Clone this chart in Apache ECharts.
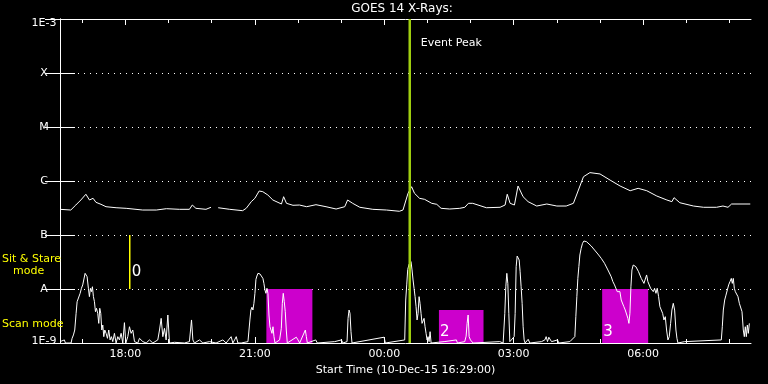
<!DOCTYPE html>
<html><head><meta charset="utf-8">
<script src="https://cdn.jsdelivr.net/npm/echarts@6/dist/echarts.min.js"></script>
<style>html,body{margin:0;padding:0;background:#000;}#chart{width:768px;height:384px;}</style>
</head><body><div id="chart"></div>
<script>
const FONT = 'DejaVu Sans';
// x values: minutes since start time 10-Dec-15 16:29:00
const axisMaxMinute = 961;
const majorTickMinutes = [91, 271, 451, 631, 811];
const majorTickLabels = ['18:00', '21:00', '00:00', '03:00', '06:00'];
const hourTickMinutes = [31, 91, 151, 211, 271, 331, 391, 451, 511, 571, 631, 691, 751, 811, 871, 931];
const fluxTicks = [1e-9, 1e-8, 1e-7, 1e-6, 1e-5, 1e-4, 1e-3];
const fluxTickLabels = ['1E-9', 'A', 'B', 'C', 'M', 'X', '1E-3'];

// GOES 14 long channel (1-8 A)
const longChannel = [
[0,2.99e-7],[15,2.9e-7],[22,3.59e-7],[29,4.45e-7],[36,5.68e-7],[41,4.45e-7],[46,4.78e-7],[50,4.03e-7],[57,3.7e-7],[64,3.34e-7],
[78,3.2e-7],[92,3.12e-7],[115,2.9e-7],[134,2.9e-7],[148,3.07e-7],[166,2.99e-7],[180,2.99e-7],[184,3.59e-7],[189,3.12e-7],[203,2.99e-7],
[210,3.26e-7],[214,'-'],[220,3.2e-7],[236,2.99e-7],[254,2.82e-7],[259,3.12e-7],[266,4.14e-7],[271,4.78e-7],[277,6.53e-7],[282,6.34e-7],
[289,5.51e-7],[296,4.45e-7],[308,3.75e-7],[311,5.12e-7],[315,3.86e-7],[324,3.55e-7],[333,3.59e-7],[343,3.34e-7],[356,3.64e-7],[370,3.34e-7],
[384,3.03e-7],[396,3.34e-7],[400,4.45e-7],[407,3.86e-7],[417,3.26e-7],[435,2.99e-7],[454,2.9e-7],[472,2.75e-7],[477,2.9e-7],[484,5.92e-7],
[489,7.84e-7],[493,5.92e-7],[500,4.78e-7],[507,4.58e-7],[517,3.86e-7],[524,3.7e-7],[530,3.12e-7],[542,3.03e-7],[556,3.12e-7],[563,3.26e-7],
[568,3.86e-7],[574,3.86e-7],[593,3.2e-7],[612,3.26e-7],[619,3.59e-7],[622,5.68e-7],[626,3.86e-7],[632,3.59e-7],[637,8.07e-7],[644,5.12e-7],
[651,4.14e-7],[663,3.44e-7],[677,3.75e-7],[691,3.44e-7],[704,3.44e-7],[714,3.86e-7],[721,6.81e-7],[728,1.2e-6],[737,1.43e-6],[751,1.35e-6],
[765,1.04e-6],[779,8.07e-7],[793,6.61e-7],[804,7.32e-7],[816,6.61e-7],[830,5.27e-7],[844,4.45e-7],[851,4.14e-7],[854,4.91e-7],[862,3.96e-7],
[881,3.44e-7],[895,3.26e-7],[913,3.26e-7],[922,3.44e-7],[929,3.26e-7],[934,3.75e-7],[960,3.75e-7]
];

// GOES 14 short channel (0.5-4 A)
const shortChannel = [
[0,1.06e-9],[1.5,1e-9],[6.1,1.14e-9],[7.5,1e-9],[15.4,1e-9],[16.8,1.22e-9],[18.7,1.41e-9],[20.5,1.74e-9],[22.4,3.54e-9],[23.8,5.82e-9],
[25.6,6.25e-9],[28,8.32e-9],[29.8,1.03e-8],[31.6,1.19e-8],[33.5,1.27e-8],[34.9,1.95e-8],[36.3,2.09e-8],[37.7,1.69e-8],[39.5,1.03e-8],[40.9,7.21e-9],
[42.3,1.03e-8],[43.7,8.93e-9],[45.1,1.1e-8],[46.5,7.21e-9],[47.9,5.82e-9],[49.3,3.8e-9],[50.7,4.39e-9],[52.5,3.54e-9],[53.9,2.31e-9],[55.3,4.39e-9],
[56.7,3.54e-9],[58.1,1.74e-9],[59.5,2.15e-9],[60.9,1.31e-9],[62.3,1.74e-9],[64.1,1.51e-9],[66,1.22e-9],[67.8,1.74e-9],[69.7,1.14e-9],[71.5,1.31e-9],
[73.4,1.06e-9],[75.7,1.51e-9],[78,1e-9],[80.4,1.31e-9],[82.7,1.14e-9],[85,1.51e-9],[87.3,1e-9],[89.6,2.38e-9],[91.5,1e-9],[94.3,1.31e-9],
[96.6,2e-9],[98.9,1.51e-9],[101.2,1.74e-9],[103.6,1.06e-9],[108.2,1e-9],[110.5,1.22e-9],[115.2,1.06e-9],[119.8,1e-9],[124.4,1.14e-9],[129.1,1e-9],
[136,1.14e-9],[138.4,1.74e-9],[140.7,2.86e-9],[143,1.31e-9],[145.3,1.87e-9],[147.6,1.14e-9],[150,3.3e-9],[152.3,1e-9],[159.2,1.03e-9],[173,1e-9],
[180,1.06e-9],[182.9,2.67e-9],[184.8,1.14e-9],[187,1e-9],[194,1.14e-9],[198.7,1e-9],[208,1.06e-9],[217,1e-9],[226.5,1.14e-9],[231,1e-9],
[238,1.31e-9],[240.4,1e-9],[242.8,1.14e-9],[245.1,1.31e-9],[247.4,1e-9],[249.8,1.06e-9],[252,1e-9],[261.4,1.06e-9],[262.8,1e-9],[264.1,2.67e-9],
[265.5,4.08e-9],[266.9,4.6e-9],[268.3,4.08e-9],[269.7,5.43e-9],[271.1,8.32e-9],[272.5,1.51e-8],[273.9,1.74e-8],[275.3,1.95e-8],[276.7,1.82e-8],[278.1,1.9e-8],
[279.5,1.95e-8],[280.8,1.77e-8],[282.2,1.57e-8],[283.6,1.27e-8],[285,9.6e-9],[286.4,8.32e-9],[287.8,1.03e-8],[289.2,8.32e-9],[290.6,3.3e-9],[292,2e-9],
[293.4,2.15e-9],[294.8,1.51e-9],[296.2,2e-9],[297.6,1.31e-9],[299,1e-9],[305.4,1.14e-9],[307.8,1.87e-9],[309.2,5.43e-9],[310.5,8.32e-9],[311.9,5.82e-9],
[313.3,3.8e-9],[314.7,1.74e-9],[316.1,1e-9],[328.6,1.28e-9],[331,1.14e-9],[333.3,1e-9],[341.2,1.74e-9],[342.6,1.31e-9],[344,1e-9],[355.6,1.14e-9],
[357.9,1e-9],[382,1.06e-9],[384.3,1e-9],[391.3,1.14e-9],[393.6,1e-9],[399.2,1.06e-9],[400.6,2.86e-9],[402,4.08e-9],[403.3,3.54e-9],[404.7,1.62e-9],
[406.1,1e-9],[450.7,1.28e-9],[452.5,1e-9],[479.4,1.14e-9],[480.8,6.25e-9],[482.2,1.19e-8],[483.6,2.3e-8],[485.5,2.9e-8],[488.2,3.2e-8],[489.6,2.25e-8],
[491,1.47e-8],[492.4,1.03e-8],[493.8,7.21e-9],[495.2,4.71e-9],[496.6,2.67e-9],[498,3.54e-9],[499.4,7.21e-9],[500.7,5.43e-9],[502.1,3.54e-9],[503.5,2.31e-9],
[504.9,2.15e-9],[506.3,2.86e-9],[507.7,2e-9],[509.1,1.51e-9],[510.5,1.14e-9],[511.9,1.31e-9],[513.3,1.06e-9],[514.7,1.62e-9],[516.1,1e-9],[534.2,1.06e-9],
[535.5,1e-9],[551.3,1.14e-9],[552.7,1e-9],[562.9,1.06e-9],[564.8,1.34e-9],[566.2,2.31e-9],[567.6,3.3e-9],[569,1.31e-9],[570.8,1.14e-9],[572.2,1.06e-9],
[574.5,1e-9],[611.6,1.06e-9],[614,1.14e-9],[616.3,1e-9],[618.6,3.54e-9],[620,1.1e-8],[621.4,1.95e-8],[622.8,1.27e-8],[624.2,3.54e-9],[625.6,1.06e-9],
[627,1e-9],[631.6,1.31e-9],[633,3.54e-9],[634.4,2.59e-8],[635.8,4.08e-8],[637.2,4.26e-8],[638.6,3.44e-8],[639.9,2.09e-8],[641.3,1.1e-8],[642.7,5.43e-9],
[644.1,2e-9],[645.5,1.14e-9],[646.9,1e-9],[651.1,1.17e-9],[653.4,1e-9],[669.6,1.06e-9],[674.3,1.14e-9],[676.1,1.31e-9],[678,1.06e-9],[679.8,1.28e-9],
[681.7,1.34e-9],[683.6,1.06e-9],[685.9,1e-9],[691.9,1.14e-9],[693.8,1e-9],[709.1,1.06e-9],[711.4,1e-9],[716,1.31e-9],[717.4,3.07e-9],[718.8,7.21e-9],
[720.2,1.57e-8],[721.6,2.6e-8],[723,4.26e-8],[724.8,5.67e-8],[726.7,7.02e-8],[728.6,7.74e-8],[730.4,7.74e-8],[732.3,7.51e-8],[734.1,7.2e-8],[738.8,6.25e-8],
[743.4,5.27e-8],[748,4.45e-8],[752.7,3.7e-8],[757.3,2.99e-8],[762,2.25e-8],[766.6,1.69e-8],[768.9,1.37e-8],[771.2,1.19e-8],[773.6,1.1e-8],[775,8.93e-9],
[776.8,9.6e-9],[778.7,8.93e-9],[780.5,6.25e-9],[782.4,6.7e-9],[784.2,4.71e-9],[786.1,4.08e-9],[787.9,4.39e-9],[789.8,2.86e-9],[791.2,2.31e-9],[792.6,3.54e-9],
[794,1.1e-8],[795.4,2.25e-8],[797.2,2.78e-8],[799.1,2.9e-8],[800.9,2.59e-8],[802.8,2.41e-8],[804.6,2.09e-8],[806.5,1.95e-8],[808.4,1.57e-8],[810.2,1.69e-8],
[812.1,1.27e-8],[813.9,1.37e-8],[815.8,1.82e-8],[817.6,1.37e-8],[819.5,1.27e-8],[821.4,1.03e-8],[823.2,1.1e-8],[825.1,8.93e-9],[826.9,1.03e-8],[828.8,8.32e-9],
[830.6,1.03e-8],[832.5,7.21e-9],[834.3,4.71e-9],[836.2,4.71e-9],[838.1,3.54e-9],[839.9,2.67e-9],[841.8,3.07e-9],[843.6,1.74e-9],[845.5,1.14e-9],[847.3,1.31e-9],
[849.2,2.31e-9],[851,4.08e-9],[852.9,5.43e-9],[854.8,4.08e-9],[856.6,1.74e-9],[858,1.22e-9],[859.4,1e-9],[868.7,1.06e-9],[871,1e-9],[919.7,1.14e-9],
[921.1,2e-9],[922.5,4.08e-9],[924.4,6.25e-9],[926.2,7.7e-9],[928.1,9.6e-9],[929.9,1.19e-8],[931.8,1.37e-8],[933.6,1.57e-8],[935,1.27e-8],[936.4,1.57e-8],
[937.8,1.03e-8],[939.2,8.93e-9],[941.1,8.32e-9],[942.9,7.21e-9],[944.8,5.43e-9],[946.6,5.82e-9],[948.5,3.8e-9],[950.3,1.74e-9],[951.7,1.31e-9],[953.1,2e-9],
[954.5,1.31e-9],[955.9,2.15e-9],[957.3,1.51e-9],[958.7,2.31e-9]
];

// scan mode observation windows
const scanStart = [287, 527, 754];
const scanEnd = [351, 589, 818];
const scanTop = [1e-8, 4.1e-9, 1e-8];
const scanLabels = ['', '2', '3'];

const eventPeakMinute = 486.4;
const sitStareMinute = 97;
const sitStareLow = 1e-8, sitStareHigh = 1e-7;
const fluxMin = 1e-9, fluxMax = 1e-3;

const MAGENTA = '#cc00cc';
const EVENT_COLOR = '#a0d010';

const chart = echarts.init(document.getElementById('chart'));

function xAxisDef(position, ticks, len, showLine, showLabel) {
  return {
    type: 'value', min: 0, max: axisMaxMinute, position: position,
    axisLine: { show: showLine, lineStyle: { color: '#fff', width: 1 } },
    axisTick: { show: true, inside: true, length: len, customValues: ticks, lineStyle: { color: '#fff', width: 1 } },
    axisLabel: showLabel ? {
      show: true, customValues: majorTickMinutes, color: '#fff', fontFamily: FONT, fontSize: 11, margin: 6,
      formatter: v => majorTickLabels[majorTickMinutes.indexOf(v)] || ''
    } : { show: false },
    splitLine: { show: false }
  };
}

const bottomAxis = xAxisDef('bottom', majorTickMinutes, 6, true, true);
bottomAxis.name = 'Start Time (10-Dec-15 16:29:00)';
bottomAxis.nameLocation = 'middle';
bottomAxis.nameGap = 18;
bottomAxis.nameTextStyle = { color: '#fff', fontFamily: FONT, fontSize: 11, verticalAlign: 'top' };

const option = {
  backgroundColor: '#000',
  animation: false,
  title: {
    text: 'GOES 14 X-Rays:', left: 402, top: 3, textAlign: 'center', padding: 0,
    textStyle: { color: '#fff', fontFamily: FONT, fontSize: 12, fontWeight: 'normal' }
  },
  grid: { left: 60, right: 17, top: 19, bottom: 41 },
  xAxis: [
    bottomAxis,
    xAxisDef('bottom', hourTickMinutes, 4, false, false),
    xAxisDef('top', majorTickMinutes, 6, true, false),
    xAxisDef('top', hourTickMinutes, 4, false, false)
  ],
  yAxis: [
    {
      type: 'log', logBase: 10, min: fluxMin, max: fluxMax, position: 'left',
      axisLine: { show: true, lineStyle: { color: '#fff', width: 1 } },
      axisTick: { show: true, inside: true, length: 15, customValues: fluxTicks, lineStyle: { color: '#fff', width: 1 } },
      axisLabel: {
        show: true, customValues: fluxTicks, color: '#fff', fontFamily: FONT, fontSize: 11, margin: 16, align: 'center',
        formatter: v => {
          const i = Math.round(Math.log10(v)) + 9;
          const t = fluxTickLabels[i];
          if (i === 6) return '{top|' + t + '}';
          if (i === 0) return '{bot|' + t + '}';
          return t;
        },
        rich: {
          top: { color: '#fff', fontFamily: FONT, fontSize: 11, padding: [8, 0, 0, 0] },
          bot: { color: '#fff', fontFamily: FONT, fontSize: 11, padding: [0, 0, 4, 0] }
        }
      },
      splitLine: { show: true, lineStyle: { color: '#fff', width: 1, type: [1, 5] } }
    },
    {
      type: 'log', logBase: 10, min: fluxMin, max: fluxMax, position: 'right',
      axisLine: { show: true, lineStyle: { color: '#fff', width: 1 } },
      axisTick: { show: true, inside: true, length: 15, customValues: fluxTicks, lineStyle: { color: '#fff', width: 1 } },
      axisLabel: { show: false },
      splitLine: { show: false }
    }
  ],
  graphic: [
    { type: 'text', x: 2, y: 259, z: 100, style: { text: 'Sit & Stare', fill: '#ffff00', font: '11px ' + FONT, verticalAlign: 'middle' } },
    { type: 'text', x: 13, y: 271, z: 100, style: { text: 'mode', fill: '#ffff00', font: '11px ' + FONT, verticalAlign: 'middle' } },
    { type: 'text', x: 2, y: 324, z: 100, style: { text: 'Scan mode', fill: '#ffff00', font: '11px ' + FONT, verticalAlign: 'middle' } }
  ],
  series: [
    {
      type: 'custom', name: 'scans', z: 1, silent: true,
      encode: { x: [0, 1], y: 2 },
      data: scanStart.map((s, i) => [s, scanEnd[i], scanTop[i]]),
      renderItem: (params, api) => {
        const p0 = api.coord([api.value(0), api.value(2)]);
        const p1 = api.coord([api.value(1), fluxMin]);
        return {
          type: 'group', children: [
            { type: 'rect', shape: { x: p0[0], y: p0[1], width: p1[0] - p0[0], height: p1[1] - p0[1] }, style: { fill: MAGENTA } },
            { type: 'text', x: p0[0] + 1, y: p1[1] - 3, z2: 10, style: { text: scanLabels[params.dataIndex], fill: '#fff', font: '15px ' + FONT, verticalAlign: 'bottom', align: 'left' } }
          ]
        };
      }
    },
    {
      type: 'line', name: 'short', z: 2, data: shortChannel, showSymbol: false, symbol: 'none',
      lineStyle: { color: '#fff', width: 1 }, silent: true
    },
    {
      type: 'line', name: 'long', z: 2, data: longChannel, showSymbol: false, symbol: 'none', connectNulls: false,
      lineStyle: { color: '#fff', width: 1 }, silent: true
    },
    {
      type: 'custom', name: 'event', z: 5, silent: true,
      data: [[eventPeakMinute, fluxMax]],
      renderItem: (params, api) => {
        const t = api.value(0);
        const pt = api.coord([t, fluxMax]);
        const pb = api.coord([t, fluxMin]);
        return {
          type: 'group', children: [
            { type: 'line', shape: { x1: pt[0], y1: pt[1], x2: pb[0], y2: pb[1] }, style: { stroke: EVENT_COLOR, lineWidth: 2.5 } },
            { type: 'text', x: pt[0] + 11, y: pt[1] + 24, style: { text: 'Event Peak', fill: '#fff', font: '11px ' + FONT, verticalAlign: 'middle' } }
          ]
        };
      }
    },
    {
      type: 'custom', name: 'sitstare', z: 5, silent: true,
      data: [[sitStareMinute, sitStareLow, sitStareHigh]],
      encode: { x: 0, y: [1, 2] },
      renderItem: (params, api) => {
        const t = api.value(0);
        const pl = api.coord([t, api.value(1)]);
        const ph = api.coord([t, api.value(2)]);
        return {
          type: 'group', children: [
            { type: 'line', shape: { x1: pl[0], y1: pl[1], x2: ph[0], y2: ph[1] }, style: { stroke: '#ffff00', lineWidth: 1.5 } },
            { type: 'text', x: pl[0] + 2, y: pl[1] - 17, style: { text: '0', fill: '#fff', font: '15px ' + FONT, verticalAlign: 'middle' } }
          ]
        };
      }
    }
  ]
};
chart.setOption(option);
</script></body></html>
